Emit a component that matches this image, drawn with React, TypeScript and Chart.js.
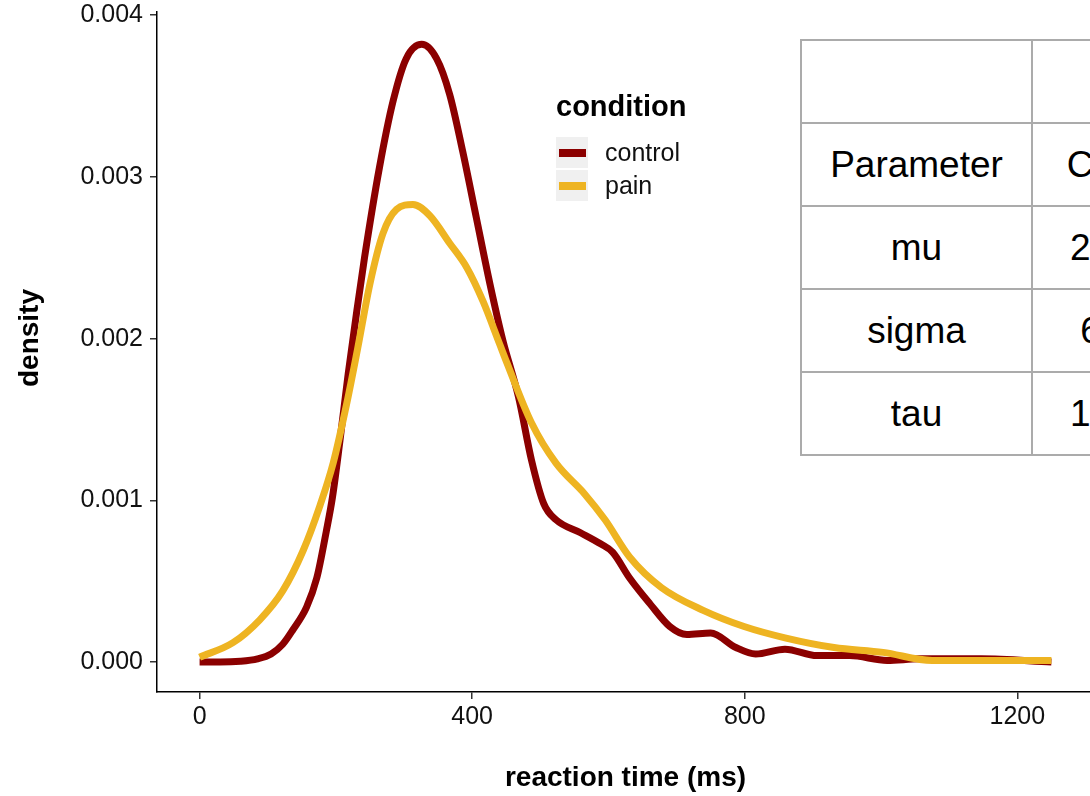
import React, { useEffect, useRef } from "react";
import { Chart, registerables } from "chart.js";

Chart.register(...registerables);

// ---- data ----
const controlX = [0, 30, 60, 85, 105, 122, 137, 157, 172, 186, 195, 206, 218, 230, 242, 264, 284, 303, 326, 348, 367, 386, 406, 426, 445, 468, 487, 505, 523, 559, 589, 606, 631, 661, 690, 715, 750, 787, 816, 859, 906, 954, 1009, 1056, 1147, 1250];
const controlDensity = [0, 0, 0.000005, 0.00002, 0.00005, 0.00011, 0.0002, 0.00034, 0.00052, 0.00081, 0.00102, 0.00137, 0.00178, 0.00215, 0.0025, 0.00306, 0.00347, 0.00373, 0.00382, 0.00373, 0.00351, 0.00316, 0.00275, 0.00234, 0.00199, 0.00164, 0.00125, 0.00098, 0.00088, 0.0008, 0.00073, 0.00068, 0.00052, 0.00036, 0.00022, 0.00017, 0.00018, 0.00009, 0.00005, 0.00008, 0.00004, 0.00004, 0.00001, 0.00002, 0.00002, 0.0];

const painX = [0, 49, 88, 122, 152, 176, 196, 216, 232, 250, 269, 289, 313, 338, 367, 392, 416, 440, 451, 487, 523, 565, 595, 631, 678, 739, 799, 859, 931, 1003, 1075, 1147, 1250];
const painDensity = [0.00003, 0.00012, 0.00026, 0.00044, 0.00069, 0.00096, 0.00123, 0.0016, 0.00194, 0.00234, 0.00265, 0.0028, 0.00283, 0.00276, 0.00259, 0.00244, 0.00223, 0.00197, 0.00185, 0.00148, 0.00123, 0.00104, 0.00088, 0.00065, 0.00046, 0.00032, 0.00022, 0.00015, 0.00009, 0.00006, 0.00001, 0.00001, 0.00001];

const xTicks = [0, 400, 800, 1200];
const yTicks = [0, 0.001, 0.002, 0.003, 0.004];

const legendTitle = "condition";
const legendLabels = ["control", "pain"];
const seriesColors = ["#8B0000", "#EEB422"];

const tableRows = [
  ["", ""],
  ["Parameter", "Control"],
  ["mu", "264.12"],
  ["sigma", "63.45"],
  ["tau", "131.82"],
];

const FONT = "'Liberation Sans', Arial, Helvetica, sans-serif";

const yTitlePlugin = {
  id: "yTitle",
  afterDraw(chart: any) {
    const ctx = chart.ctx;
    ctx.save();
    ctx.translate(30, 338);
    ctx.rotate(-Math.PI / 2);
    ctx.font = `bold 28px ${FONT}`;
    ctx.fillStyle = "#000";
    ctx.textAlign = "center";
    ctx.textBaseline = "middle";
    ctx.fillText("density", 0, 0);
    ctx.restore();
  },
};

export default function App() {
  const canvasRef = useRef<HTMLCanvasElement | null>(null);

  useEffect(() => {
    if (!canvasRef.current) return;
    const chart = new Chart(canvasRef.current, {
      type: "line",
      data: {
        datasets: [
          {
            label: legendLabels[1],
            data: painX.map((x, i) => ({ x, y: painDensity[i] })),
            borderColor: seriesColors[1],
            borderWidth: 7,
            pointRadius: 0,
            cubicInterpolationMode: "monotone",
            fill: false,
            order: 0,
          },
          {
            label: legendLabels[0],
            data: controlX.map((x, i) => ({ x, y: controlDensity[i] })),
            borderColor: seriesColors[0],
            borderWidth: 7,
            pointRadius: 0,
            cubicInterpolationMode: "monotone",
            fill: false,
            order: 1,
          },
        ],
      },
      options: {
        responsive: false,
        animation: false,
        devicePixelRatio: 1,
        layout: { padding: { top: 12, right: 6, left: 0, bottom: 0 } },
        plugins: { legend: { display: false }, tooltip: { enabled: false } },
        scales: {
          x: {
            type: "linear",
            min: -62.5,
            max: 1312.5,
            afterFit: (s: any) => {
              s.height = 104;
              s.paddingLeft = 0;
              s.paddingRight = 0;
            },
            afterBuildTicks: (s: any) => {
              s.ticks = xTicks.map((v) => ({ value: v }));
            },
            ticks: {
              font: { family: FONT, size: 25 },
              color: "#111",
              padding: 3,
              maxRotation: 0,
              callback: (v: any) => String(v),
            },
            grid: { drawOnChartArea: false, drawTicks: true, tickLength: 7, color: "#333", lineWidth: 1.5 },
            border: { display: true, color: "#000", width: 1.5 },
            title: {
              display: true,
              text: "reaction time (ms)",
              font: { family: FONT, size: 28, weight: "bold" },
              color: "#000",
              padding: { top: 0, bottom: 1 },
            },
          },
          y: {
            type: "linear",
            min: -0.000185,
            max: 0.00402,
            afterFit: (s: any) => {
              s.width = 157;
              s.paddingTop = 0;
              s.paddingBottom = 0;
            },
            afterBuildTicks: (s: any) => {
              s.ticks = yTicks.map((v) => ({ value: v }));
            },
            ticks: {
              font: { family: FONT, size: 25 },
              color: "#111",
              padding: 7,
              callback: (v: any) => Number(v).toFixed(3),
            },
            grid: { drawOnChartArea: false, drawTicks: true, tickLength: 7, color: "#333", lineWidth: 1.5 },
            border: { display: true, color: "#000", width: 1.5 },
          },
        },
      },
      plugins: [yTitlePlugin],
    } as any);
    return () => chart.destroy();
  }, []);

  const cellBorder = "2px solid #ababab";

  return (
    <div
      style={{
        position: "fixed",
        left: 0,
        top: 0,
        width: 1090,
        height: 796,
        overflow: "hidden",
        background: "#fff",
        fontFamily: FONT,
      }}
    >
      <canvas ref={canvasRef} width={1100} height={796} style={{ position: "absolute", left: 0, top: 0 }} />

      {/* legend */}
      <div style={{ position: "absolute", left: 556, top: 89, fontWeight: "bold", fontSize: 29, lineHeight: "34px", color: "#000" }}>
        {legendTitle}
      </div>
      {legendLabels.map((lab, i) => (
        <div key={lab} style={{ position: "absolute", left: 556, top: 137 + i * 33, height: 31, display: "flex", alignItems: "center" }}>
          <div style={{ width: 32, height: 31, background: "#f0f0f0", position: "relative" }}>
            <div style={{ position: "absolute", left: 3, top: 12, width: 27, height: 8, background: seriesColors[i] }} />
          </div>
          <div style={{ marginLeft: 17, fontSize: 25, color: "#111", lineHeight: "31px" }}>{lab}</div>
        </div>
      ))}

      {/* table */}
      <table
        style={{
          position: "absolute",
          left: 800,
          top: 39,
          borderCollapse: "collapse",
          background: "#fff",
          fontSize: 37,
          fontFamily: FONT,
          color: "#000",
        }}
      >
        <tbody>
          {tableRows.map((row, r) => (
            <tr key={r} style={{ height: 83 }}>
              {row.map((c, k) => (
                <td
                  key={k}
                  style={{
                    border: cellBorder,
                    width: k === 0 ? 229 : 187,
                    minWidth: k === 0 ? 229 : 187,
                    padding: 0,
                    textAlign: "center",
                    verticalAlign: "middle",
                    whiteSpace: "nowrap",
                  }}
                >
                  {c}
                </td>
              ))}
            </tr>
          ))}
        </tbody>
      </table>
    </div>
  );
}
